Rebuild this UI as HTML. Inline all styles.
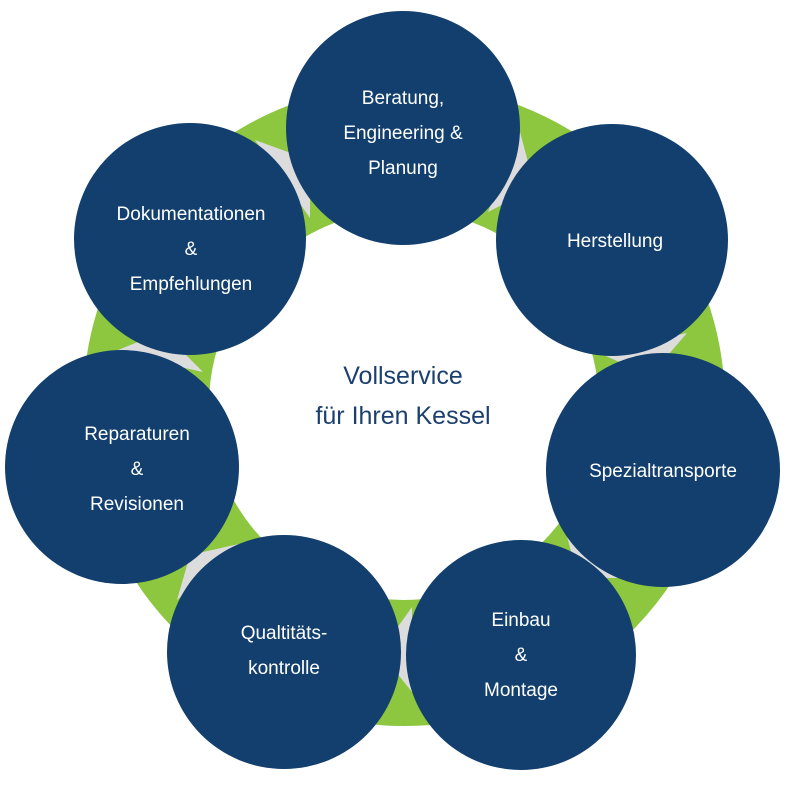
<!DOCTYPE html>
<html><head><meta charset="utf-8"><style>
html,body{margin:0;padding:0;background:#fff;}
svg{display:block;}
text{font-family:"Liberation Sans",sans-serif;}
</style></head><body>
<svg width="800" height="788" viewBox="0 0 800 788">
<circle cx="404" cy="405" r="258" fill="none" stroke="#8dc63f" stroke-width="126"/>
<g fill="#dcdcdc">
<polygon points="255,140 310,160 310,218"/>
<polygon points="520,132 535,188 488,212"/>
<polygon points="597,352 687,333 650,376"/>
<polygon points="564,525 620,578 578,578"/>
<polygon points="380,652 412,607 412,692"/>
<polygon points="177,600 190,555 243,543"/>
<polygon points="113,352 163,332 203,372"/>
</g>
<g fill="#123f6e">
<circle cx="403" cy="128" r="117"/>
<circle cx="612" cy="240" r="116"/>
<circle cx="663" cy="470" r="117"/>
<circle cx="521" cy="655" r="115"/>
<circle cx="284" cy="652" r="117"/>
<circle cx="122" cy="467" r="117"/>
<circle cx="190" cy="239" r="116"/>
</g>
<g fill="#fff" font-size="19" text-anchor="middle">
<text x="403" y="104">Beratung,</text>
<text x="403" y="139">Engineering &amp;</text>
<text x="403" y="174">Planung</text>
<text x="615" y="247">Herstellung</text>
<text x="663" y="477">Spezialtransporte</text>
<text x="521" y="626">Einbau</text>
<text x="521" y="661">&amp;</text>
<text x="521" y="696">Montage</text>
<text x="284" y="639">Qualtitäts-</text>
<text x="284" y="674">kontrolle</text>
<text x="137" y="440">Reparaturen</text>
<text x="137" y="475">&amp;</text>
<text x="137" y="510">Revisionen</text>
<text x="191" y="220">Dokumentationen</text>
<text x="191" y="255">&amp;</text>
<text x="191" y="290">Empfehlungen</text>
</g>
<g fill="#1b3f6e" font-size="25" text-anchor="middle">
<text x="403" y="384">Vollservice</text>
<text x="403" y="424">für Ihren Kessel</text>
</g>
</svg>
</body></html>
